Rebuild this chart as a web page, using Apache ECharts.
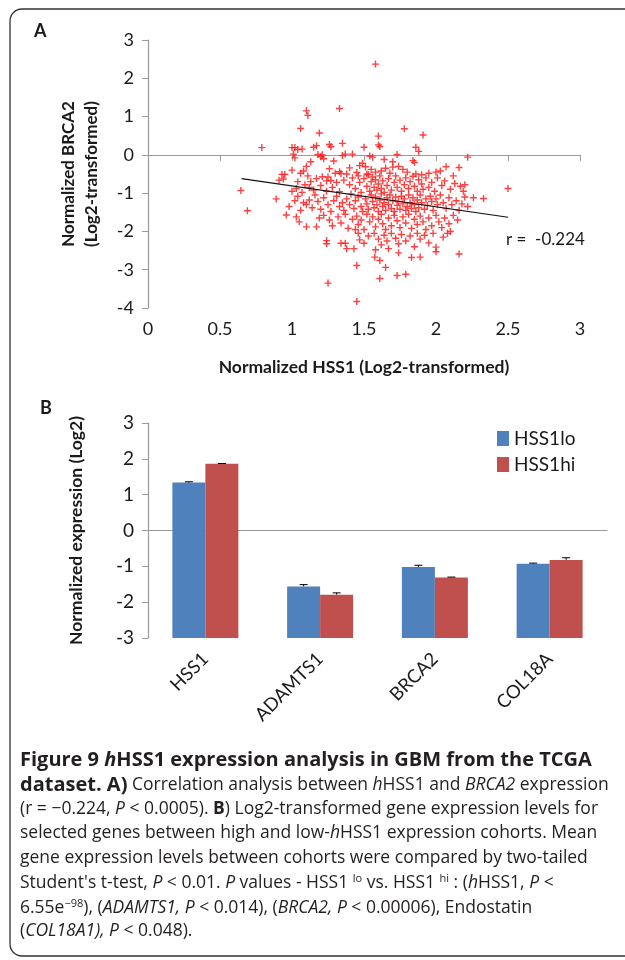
<!DOCTYPE html>
<html><head><meta charset="utf-8">
<script src="https://cdn.jsdelivr.net/npm/echarts@6/dist/echarts.min.js"></script>
<style>html,body{margin:0;padding:0;background:#fff}#c{width:625px;height:960px}</style>
</head><body><div id="c"></div>
<script>
// ---------- Panel A data ----------
const scatterPoints = [
[1.58,2.37],[1.10,1.15],[1.11,1.03],[1.33,1.21],[1.06,0.69],[1.19,0.57],[1.78,0.68],[1.91,0.52],[1.60,0.49],
[0.79,0.19],[1.00,0.19],[1.02,0.19],[1.04,0.14],[1.07,0.15],[1.15,0.20],[1.17,0.24],[1.26,0.27],[1.27,0.21],[1.35,0.30],[1.50,0.20],[1.60,0.26],[1.61,0.22],[1.86,0.20],[1.88,0.09],
[1.01,0.02],[1.02,-0.08],[1.10,-0.30],[1.13,-0.18],[1.18,0.01],[1.20,-0.05],[1.21,0.00],[1.29,-0.16],[1.35,-0.02],[1.37,0.02],[1.42,0.02],[1.47,-0.28],[1.49,-0.22],[1.51,-0.31],[1.54,-0.03],[1.56,-0.06],[1.73,0.01],[1.84,-0.15],[1.85,-0.20],[2.07,-0.31],[2.03,-0.42],[2.22,-0.06],[2.16,-0.33],[1.00,-0.40],[1.06,-0.48],[1.08,-0.42],[1.11,-0.55],[1.22,-0.10],[1.26,-0.36],[1.33,-0.44],[1.40,-0.34],[1.55,-0.38],[1.58,-0.45],[1.62,-0.42],[1.65,-0.35],[1.70,-0.32],[1.74,-0.30],[1.77,-0.38],[1.80,-0.45],[1.86,-0.50],[1.90,-0.52],[1.95,-0.48],[2.00,-0.45],[1.68,-0.48],[1.52,-0.50],[1.45,-0.46],[1.30,-0.48],[1.64,-0.12],[1.70,-0.18],
[0.93,-0.51],[0.95,-0.51],[0.94,-0.63],[0.91,-0.66],[1.04,-0.70],[1.21,-0.57],[1.24,-0.68],[1.27,-0.67],[1.34,-0.49],[1.38,-0.50],[1.09,-0.78],[1.12,-0.85],[1.15,-0.92],[1.17,-0.62],[1.20,-0.80],[1.28,-0.85],[1.31,-0.72],[1.36,-0.66],[1.40,-0.78],[1.42,-0.60],[1.44,-0.88],[1.47,-0.72],[1.50,-0.62],[1.52,-0.82],[1.54,-0.95],[1.55,-0.70],[1.56,-0.58],[1.57,-0.85],[1.58,-0.65],[1.59,-0.92],[1.60,-0.76],[1.61,-0.55],[1.62,-0.88],[1.63,-0.68],[1.64,-0.98],[1.66,-0.80],[1.67,-0.62],[1.69,-0.92],[1.71,-0.72],[1.72,-0.55],[1.73,-0.85],[1.75,-0.66],[1.76,-0.95],[1.78,-0.78],[1.79,-0.60],[1.81,-0.88],[1.82,-0.70],[1.84,-0.56],[1.85,-0.82],[1.87,-0.95],[1.88,-0.65],[1.90,-0.76],[1.91,-0.90],[1.93,-0.60],[1.95,-0.85],[1.97,-0.72],[1.99,-0.95],[2.01,-0.60],[2.04,-0.80],[2.06,-0.68],[2.10,-0.90],[2.13,-0.75],[2.17,-0.82],[2.19,-0.95],[2.20,-0.78],[2.12,-0.55],[1.13,-0.70],[1.03,-0.88],[1.00,-0.95],[1.07,-0.98],[1.24,-0.95],[1.33,-0.96],[1.48,-0.98],[1.25,-0.58],[1.46,-0.55],[1.53,-0.52],
[0.645,-0.93],[0.89,-1.15],[1.04,-1.08],[1.08,-1.25],[1.10,-1.30],[1.12,-1.18],[1.14,-1.38],[1.16,-1.05],[1.18,-1.22],[1.20,-1.42],[1.22,-1.12],[1.25,-1.30],[1.27,-1.48],[1.29,-1.20],[1.31,-1.08],[1.33,-1.35],[1.35,-1.25],[1.36,-1.45],[1.38,-1.15],[1.40,-1.30],[1.41,-1.02],[1.43,-1.40],[1.44,-1.20],[1.46,-1.10],[1.48,-1.35],[1.49,-1.48],[1.51,-1.15],[1.52,-1.28],[1.53,-1.42],[1.55,-1.05],[1.56,-1.22],[1.57,-1.38],[1.58,-1.10],[1.59,-1.30],[1.60,-1.48],[1.61,-1.18],[1.62,-1.02],[1.63,-1.35],[1.64,-1.25],[1.65,-1.45],[1.66,-1.12],[1.67,-1.30],[1.68,-1.05],[1.69,-1.40],[1.70,-1.20],[1.71,-1.48],[1.72,-1.10],[1.73,-1.32],[1.74,-1.22],[1.75,-1.42],[1.76,-1.08],[1.77,-1.28],[1.78,-1.15],[1.79,-1.45],[1.80,-1.35],[1.81,-1.05],[1.82,-1.25],[1.83,-1.40],[1.84,-1.12],[1.85,-1.30],[1.86,-1.48],[1.87,-1.18],[1.88,-1.38],[1.89,-1.05],[1.90,-1.25],[1.92,-1.42],[1.93,-1.15],[1.94,-1.32],[1.96,-1.08],[1.97,-1.22],[1.98,-1.45],[2.00,-1.15],[2.01,-1.30],[2.03,-1.05],[2.05,-1.25],[2.07,-1.40],[2.09,-1.12],[2.11,-1.30],[2.14,-1.20],[2.16,-1.45],[2.18,-1.28],[2.20,-1.10],[2.22,-1.35],[2.26,-1.12],[2.33,-1.14],[2.50,-0.88],[1.02,-1.20],[0.98,-1.35],[1.06,-1.45],
[0.69,-1.46],[0.96,-1.57],[1.03,-1.62],[1.05,-1.75],[1.10,-1.88],[1.17,-1.88],[1.22,-1.58],[1.26,-1.70],[1.28,-1.85],[1.32,-1.62],[1.34,-1.78],[1.37,-1.55],[1.39,-1.92],[1.42,-1.68],[1.45,-1.60],[1.46,-1.82],[1.48,-1.70],[1.50,-1.95],[1.52,-1.55],[1.54,-1.75],[1.56,-1.62],[1.58,-1.88],[1.60,-1.68],[1.62,-1.55],[1.63,-1.80],[1.65,-1.95],[1.67,-1.65],[1.69,-1.85],[1.71,-1.58],[1.73,-1.72],[1.75,-1.90],[1.77,-1.62],[1.79,-1.78],[1.81,-1.55],[1.83,-1.92],[1.85,-1.68],[1.87,-1.82],[1.89,-1.60],[1.91,-1.75],[1.93,-1.95],[1.95,-1.65],[1.97,-1.85],[2.00,-1.58],[2.02,-1.75],[2.04,-1.90],[2.06,-1.65],[2.09,-1.80],[2.12,-1.58],[2.15,-1.70],[2.10,-2.00],[1.44,-1.95],[1.19,-1.65],
[1.24,-2.24],[1.24,-2.32],[1.34,-2.31],[1.37,-2.31],[1.38,-2.45],[1.43,-2.45],[1.50,-2.31],[1.47,-2.22],[1.46,-2.05],[1.53,-2.12],[1.57,-2.05],[1.60,-2.20],[1.62,-2.35],[1.64,-2.10],[1.66,-2.25],[1.69,-2.05],[1.72,-2.18],[1.74,-2.32],[1.76,-2.08],[1.79,-2.25],[1.82,-2.12],[1.85,-2.40],[1.87,-2.05],[1.89,-2.20],[1.92,-2.10],[1.95,-2.30],[1.98,-2.05],[2.00,-2.41],[2.05,-2.15],[2.08,-2.05],[1.67,-2.45],[1.58,-2.48],
[1.575,-2.67],[1.61,-2.76],[1.65,-2.94],[1.74,-2.56],[1.83,-2.68],[1.89,-2.67],[2.00,-2.53],[2.16,-2.59],[1.45,-2.89],[1.25,-3.35],[1.45,-3.83],[1.61,-3.23],[1.73,-3.15],[1.79,-3.12]
];
const trendLine = [[0.65,-0.62],[2.5,-1.63]];
const rLabel = 'r =  -0.224';

// ---------- Panel B data ----------
const genes = ['HSS1','ADAMTS1','BRCA2','COL18A'];
const hss1lo = [1.34,-1.56,-1.02,-0.93];
const hss1hi = [1.86,-1.79,-1.31,-0.82];
const errLo = [0.02,0.05,0.05,0.02];
const errHi = [0.01,0.05,0.01,0.06];
const barBase = -3;

const FONT = 'Lato';
const BLUE = '#4F81BD', RED = '#C0504D', AX = '#9a9a9a', TXT = '#1a1a1a';
const BW = 33;

const chart = echarts.init(document.getElementById('c'), null, {renderer:'canvas'});

function errItem(offset){
  return function(params, api){
    const i = api.value(0), v = api.value(1), e = api.value(2);
    const p0 = api.coord([i, v]); const p1 = api.coord([i, v + e]);
    const x = p0[0] + offset;
    return {type:'group', children:[
      {type:'line', shape:{x1:x,y1:p0[1],x2:x,y2:p1[1]}, style:{stroke:'#000',lineWidth:1}},
      {type:'line', shape:{x1:x-4,y1:p1[1],x2:x+4,y2:p1[1]}, style:{stroke:'#000',lineWidth:1}}
    ]};
  };
}

const caption = [
  '{b|Figure 9 }{bi|h}{b|HSS1 expression analysis in GBM from the TCGA}',
  '{b|dataset. A)}{n| Correlation analysis between }{i|h}{n|HSS1 and }{i|BRCA2}{n| expression}',
  '{n|(r = \u22120.224, }{i|P}{n| < 0.0005). }{b2|B}{n|) Log2-transformed gene expression levels for}',
  '{n|selected genes between high and low-}{i|h}{n|HSS1 expression cohorts. Mean}',
  '{n|gene expression levels between cohorts were compared by two-tailed}',
  "{n|Student's t-test, }{i|P}{n| < 0.01. }{i|P}{n| values - HSS1 }{sup|lo}{n| vs. HSS1 }{sup|hi}{n| : (}{i|h}{n|HSS1, }{i|P}{n| <}",
  '{n|6.55e}{sup|\u221298}{n|), (}{i|ADAMTS1, P}{n| < 0.014), (}{i|BRCA2, P}{n| < 0.00006), Endostatin}',
  '{n|(}{i|COL18A1), P}{n| < 0.048).}'
];
const capFont = 'Open Sans';
const CAPC = '#231f20';
const rich = {
  b:{fontFamily:capFont,fontWeight:'bold',fontSize:20,color:CAPC},
  b2:{fontFamily:capFont,fontWeight:'bold',fontSize:17.5,color:CAPC},
  bi:{fontFamily:capFont,fontWeight:'bold',fontStyle:'italic',fontSize:20,color:CAPC},
  n:{fontFamily:capFont,fontSize:17.5,color:CAPC},
  i:{fontFamily:capFont,fontStyle:'italic',fontSize:17.5,color:CAPC},
  sup:{fontFamily:capFont,fontSize:11,color:CAPC,verticalAlign:'top',padding:[0,0,9,0]}
};
const capY = [763,788.5,813,837.5,862,886.5,911,935.5];
const graphics = [
  {type:'rect', shape:{x:10,y:9,width:660,height:947,r:12}, style:{fill:'none',stroke:'#333',lineWidth:1.3}, z:-1},
  {type:'text', left:34, top:22, style:{text:'A', font:'bold 18px '+FONT, fill:TXT}},
  {type:'text', left:40, top:399, style:{text:'B', font:'bold 18px '+FONT, fill:TXT}},
  {type:'text', left:506, top:231, style:{text:rLabel, font:'17px '+FONT, fill:TXT}}
];
caption.forEach((t,k)=>{
  graphics.push({type:'text', left:20, top:capY[k]-13, style:{text:t, rich:rich, fill:CAPC}});
});

const option = {
  animation:false,
  textStyle:{fontFamily:FONT},
  grid:[
    {left:148, right:45, top:40, bottom:652},
    {left:148, right:18, top:423, bottom:322}
  ],
  xAxis:[
    {gridIndex:0, type:'value', min:0, max:3, interval:0.5,
     name:'Normalized HSS1 (Log2-transformed)', nameLocation:'middle', nameGap:50,
     nameTextStyle:{fontFamily:FONT,fontWeight:'bold',fontSize:17.5,color:TXT},
     axisLine:{lineStyle:{color:AX,width:1.2}}, axisTick:{length:6,lineStyle:{color:AX}},
     axisLabel:{fontFamily:FONT,fontSize:18,color:TXT,margin:12}, splitLine:{show:false}},
    {gridIndex:1, type:'category', data:genes, boundaryGap:true,
     axisLine:{lineStyle:{color:AX,width:1.2}}, axisTick:{length:7,lineStyle:{color:AX},alignWithLabel:false},
     axisLabel:{fontFamily:FONT,fontSize:18.5,color:TXT,rotate:45,margin:18,interval:0}}
  ],
  yAxis:[
    {gridIndex:0, type:'value', min:-4, max:3, interval:1,
     name:'Normalized BRCA2\n(Log2-transformed)', nameLocation:'middle', nameGap:45,
     nameTextStyle:{fontFamily:FONT,fontWeight:'bold',fontSize:17,color:TXT,lineHeight:23},
     axisLine:{show:true,lineStyle:{color:AX,width:1.2}}, axisTick:{show:true,length:6,lineStyle:{color:AX}},
     axisLabel:{fontFamily:FONT,fontSize:18,color:TXT,margin:14}, splitLine:{show:false}},
    {gridIndex:1, type:'value', min:-3, max:3, interval:1,
     name:'Normalized expression (Log2)', nameLocation:'middle', nameGap:63,
     nameTextStyle:{fontFamily:FONT,fontWeight:'bold',fontSize:17.5,color:TXT},
     axisLine:{show:true,lineStyle:{color:AX,width:1.2}}, axisTick:{show:true,length:6,lineStyle:{color:AX}},
     axisLabel:{fontFamily:FONT,fontSize:19,color:TXT,margin:14}, splitLine:{show:false}}
  ],
  legend:{data:['HSS1lo','HSS1hi'], orient:'vertical', left:492, top:424, icon:'rect',
    itemWidth:12, itemHeight:15, itemGap:7, textStyle:{fontFamily:FONT,fontSize:19,color:TXT}},
  graphic:graphics,
  series:[
    {type:'scatter', xAxisIndex:0, yAxisIndex:0, data:scatterPoints,
     symbol:'path://M4,0H6V4H10V6H6V10H4V6H0V4H4Z', symbolSize:7,
     itemStyle:{color:'#ff1010'}, silent:true},
    {type:'line', xAxisIndex:0, yAxisIndex:0, data:trendLine, showSymbol:false,
     lineStyle:{color:'#111',width:1.2}, silent:true, z:3},
    {type:'bar', name:'baseLo', xAxisIndex:1, yAxisIndex:1, stack:'lo', stackStrategy:'all',
     data:genes.map(()=>barBase), itemStyle:{color:'transparent'}, barWidth:BW, barGap:'0%', silent:true},
    {type:'bar', name:'HSS1lo', xAxisIndex:1, yAxisIndex:1, stack:'lo', stackStrategy:'all',
     data:hss1lo.map(v=>v-barBase), itemStyle:{color:BLUE}, barWidth:BW, barGap:'0%'},
    {type:'bar', name:'baseHi', xAxisIndex:1, yAxisIndex:1, stack:'hi', stackStrategy:'all',
     data:genes.map(()=>barBase), itemStyle:{color:'transparent'}, barWidth:BW, barGap:'0%', silent:true},
    {type:'bar', name:'HSS1hi', xAxisIndex:1, yAxisIndex:1, stack:'hi', stackStrategy:'all',
     data:hss1hi.map(v=>v-barBase), itemStyle:{color:RED}, barWidth:BW, barGap:'0%'},
    {type:'custom', xAxisIndex:1, yAxisIndex:1, renderItem:errItem(-BW/2),
     data:hss1lo.map((v,i)=>[i,v,errLo[i]]), encode:{x:0,y:1}, z:5, silent:true},
    {type:'custom', xAxisIndex:1, yAxisIndex:1, renderItem:errItem(BW/2),
     data:hss1hi.map((v,i)=>[i,v,errHi[i]]), encode:{x:0,y:1}, z:5, silent:true}
  ]
};
chart.setOption(option);
</script></body></html>
